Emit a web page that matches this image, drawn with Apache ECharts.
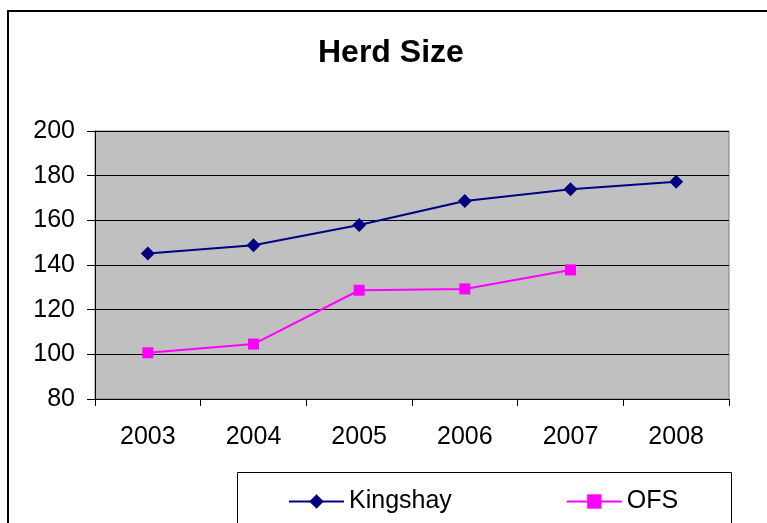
<!DOCTYPE html>
<html>
<head>
<meta charset="utf-8">
<script src="https://cdn.jsdelivr.net/npm/echarts@6/dist/echarts.min.js"></script>
<style>html,body{margin:0;padding:0;background:#fff}#c{width:767px;height:523px}</style>
</head>
<body>
<div id="c"></div>
<script>
const years = ['2003','2004','2005','2006','2007','2008'];
const kingshay = [145.2, 148.8, 157.9, 168.7, 173.9, 177.3];
const ofs = [100.7, 104.6, 128.7, 129.3, 137.8, null];
const yTicks = {min: 80, max: 200, interval: 20};

const FONT = "'Liberation Sans', Arial, sans-serif";
const chart = echarts.init(document.getElementById('c'), null, {renderer: 'canvas'});
chart.setOption({
  animation: false,
  backgroundColor: '#fff',
  title: {
    text: 'Herd Size', left: 318, top: 37, padding: 0,
    textStyle: {fontFamily: FONT, fontSize: 32, fontWeight: 'bold', color: '#000'}
  },
  graphic: [
    {type: 'rect', shape: {x: 8, y: 11, width: 800, height: 600}, style: {fill: 'none', stroke: '#000', lineWidth: 2}, silent: true},
    {type: 'rect', shape: {x: 237.5, y: 472.5, width: 494, height: 80}, style: {fill: '#fff', stroke: '#000', lineWidth: 1}, silent: true}
  ],
  legend: {
    left: 288, top: 489, padding: 0, itemWidth: 55, itemHeight: 18, itemGap: 114,
    lineStyle: {width: 2},
    textStyle: {fontFamily: FONT, fontSize: 25, color: '#000'},
    z: 10
  },
  grid: {
    left: 95, right: 38, top: 131, bottom: 124, show: true,
    backgroundColor: '#C0C0C0', borderColor: '#808080', borderWidth: 1
  },
  xAxis: {
    type: 'category', data: years, boundaryGap: true,
    axisLine: {lineStyle: {color: '#000', width: 1}},
    axisTick: {show: true, length: 7, alignWithLabel: false, lineStyle: {color: '#000'}},
    axisLabel: {margin: 26, fontFamily: FONT, fontSize: 25, color: '#000'}
  },
  yAxis: {
    type: 'value', min: yTicks.min, max: yTicks.max, interval: yTicks.interval,
    axisLine: {show: true, lineStyle: {color: '#000', width: 1}},
    axisTick: {show: true, length: 8, lineStyle: {color: '#000'}},
    axisLabel: {margin: 20, fontFamily: FONT, fontSize: 25, color: '#000'},
    splitLine: {show: true, lineStyle: {color: '#000', width: 1}}
  },
  series: [
    {name: 'Kingshay', type: 'line', data: kingshay, symbol: 'diamond', symbolSize: 14,
     lineStyle: {color: '#000080', width: 2}, itemStyle: {color: '#000080'}},
    {name: 'OFS', type: 'line', data: ofs, symbol: 'rect', symbolSize: 11,
     lineStyle: {color: '#FF00FF', width: 2}, itemStyle: {color: '#FF00FF'}}
  ]
});
</script>
</body>
</html>
